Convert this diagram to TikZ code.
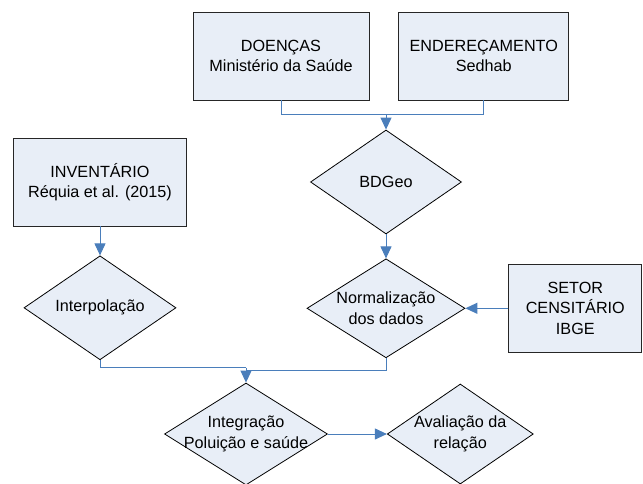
\documentclass[tikz,border=0pt]{standalone}
\usepackage{fontspec}
\setmainfont{Liberation Sans}
\usepackage{tikz}
\usetikzlibrary{arrows.meta,positioning,shapes.geometric}

\definecolor{boxfill}{RGB}{232,238,247}
\definecolor{linkblue}{RGB}{74,126,187}

\begin{document}
\begin{tikzpicture}[
  x=1pt,y=-1pt,
  blk/.style={rectangle,draw=black!85,fill=boxfill,line width=0.8pt,minimum height=88pt,align=center,font=\fontsize{16.2}{20.5}\selectfont},
  dia/.style={diamond,draw=black,fill=boxfill,line width=0.8pt,inner sep=-15pt,align=center,font=\fontsize{16.2}{20.5}\selectfont},
  conn/.style={draw=linkblue,line width=1pt},
  arr/.style={conn,-{Triangle[length=12pt,width=11pt]}}
]
\useasboundingbox (0,0) rectangle (643,484);
\node[blk,minimum width=176pt] (doencas) at (281,56) {DOENÇAS\\Ministério da Saúde};
\node[blk,minimum width=170pt,right=29pt of doencas] (ender) {ENDEREÇAMENTO\\Sedhab};
\node[dia,minimum width=151pt,minimum height=104pt] (bdgeo) at (386,182) {BDGeo};
\node[dia,minimum width=158pt,minimum height=99pt,below=24pt of bdgeo] (normal) {Normalização\\dos dados};
\node[blk,minimum width=133pt,right=43pt of normal] (setor) {SETOR\\CENSITÁRIO\\IBGE};
\node[blk,minimum width=173pt] (invent) at (100,182) {INVENTÁRIO\\Réquia et al. (2015)};
\node[dia,minimum width=152pt,minimum height=104pt,below=29pt of invent] (interp) {Interpolação};
\node[dia,minimum width=163pt,minimum height=102pt] (integ) at (246,434) {Integração\\Poluição e saúde};
\node[dia,minimum width=146pt,minimum height=100pt,right=59pt of integ] (aval) {Avaliação da\\relação};
\coordinate[above=15pt of bdgeo.north] (j1);
\coordinate[above=15pt of integ.north] (j2);
\coordinate[above=12pt of integ.north] (j3);
\draw[conn] (doencas.south) |- (j1) -| (ender.south);
\draw[arr] (j1)--(bdgeo);
\draw[arr] (bdgeo)--(normal);
\draw[arr] (setor)--(normal);
\draw[arr] (invent)--(interp);
\draw[conn] (interp.south) |- (j2);
\draw[conn] (normal.south) |- (j3);
\draw[arr] (j2)--(integ);
\draw[arr] (integ)--(aval);
\end{tikzpicture}
\end{document}
